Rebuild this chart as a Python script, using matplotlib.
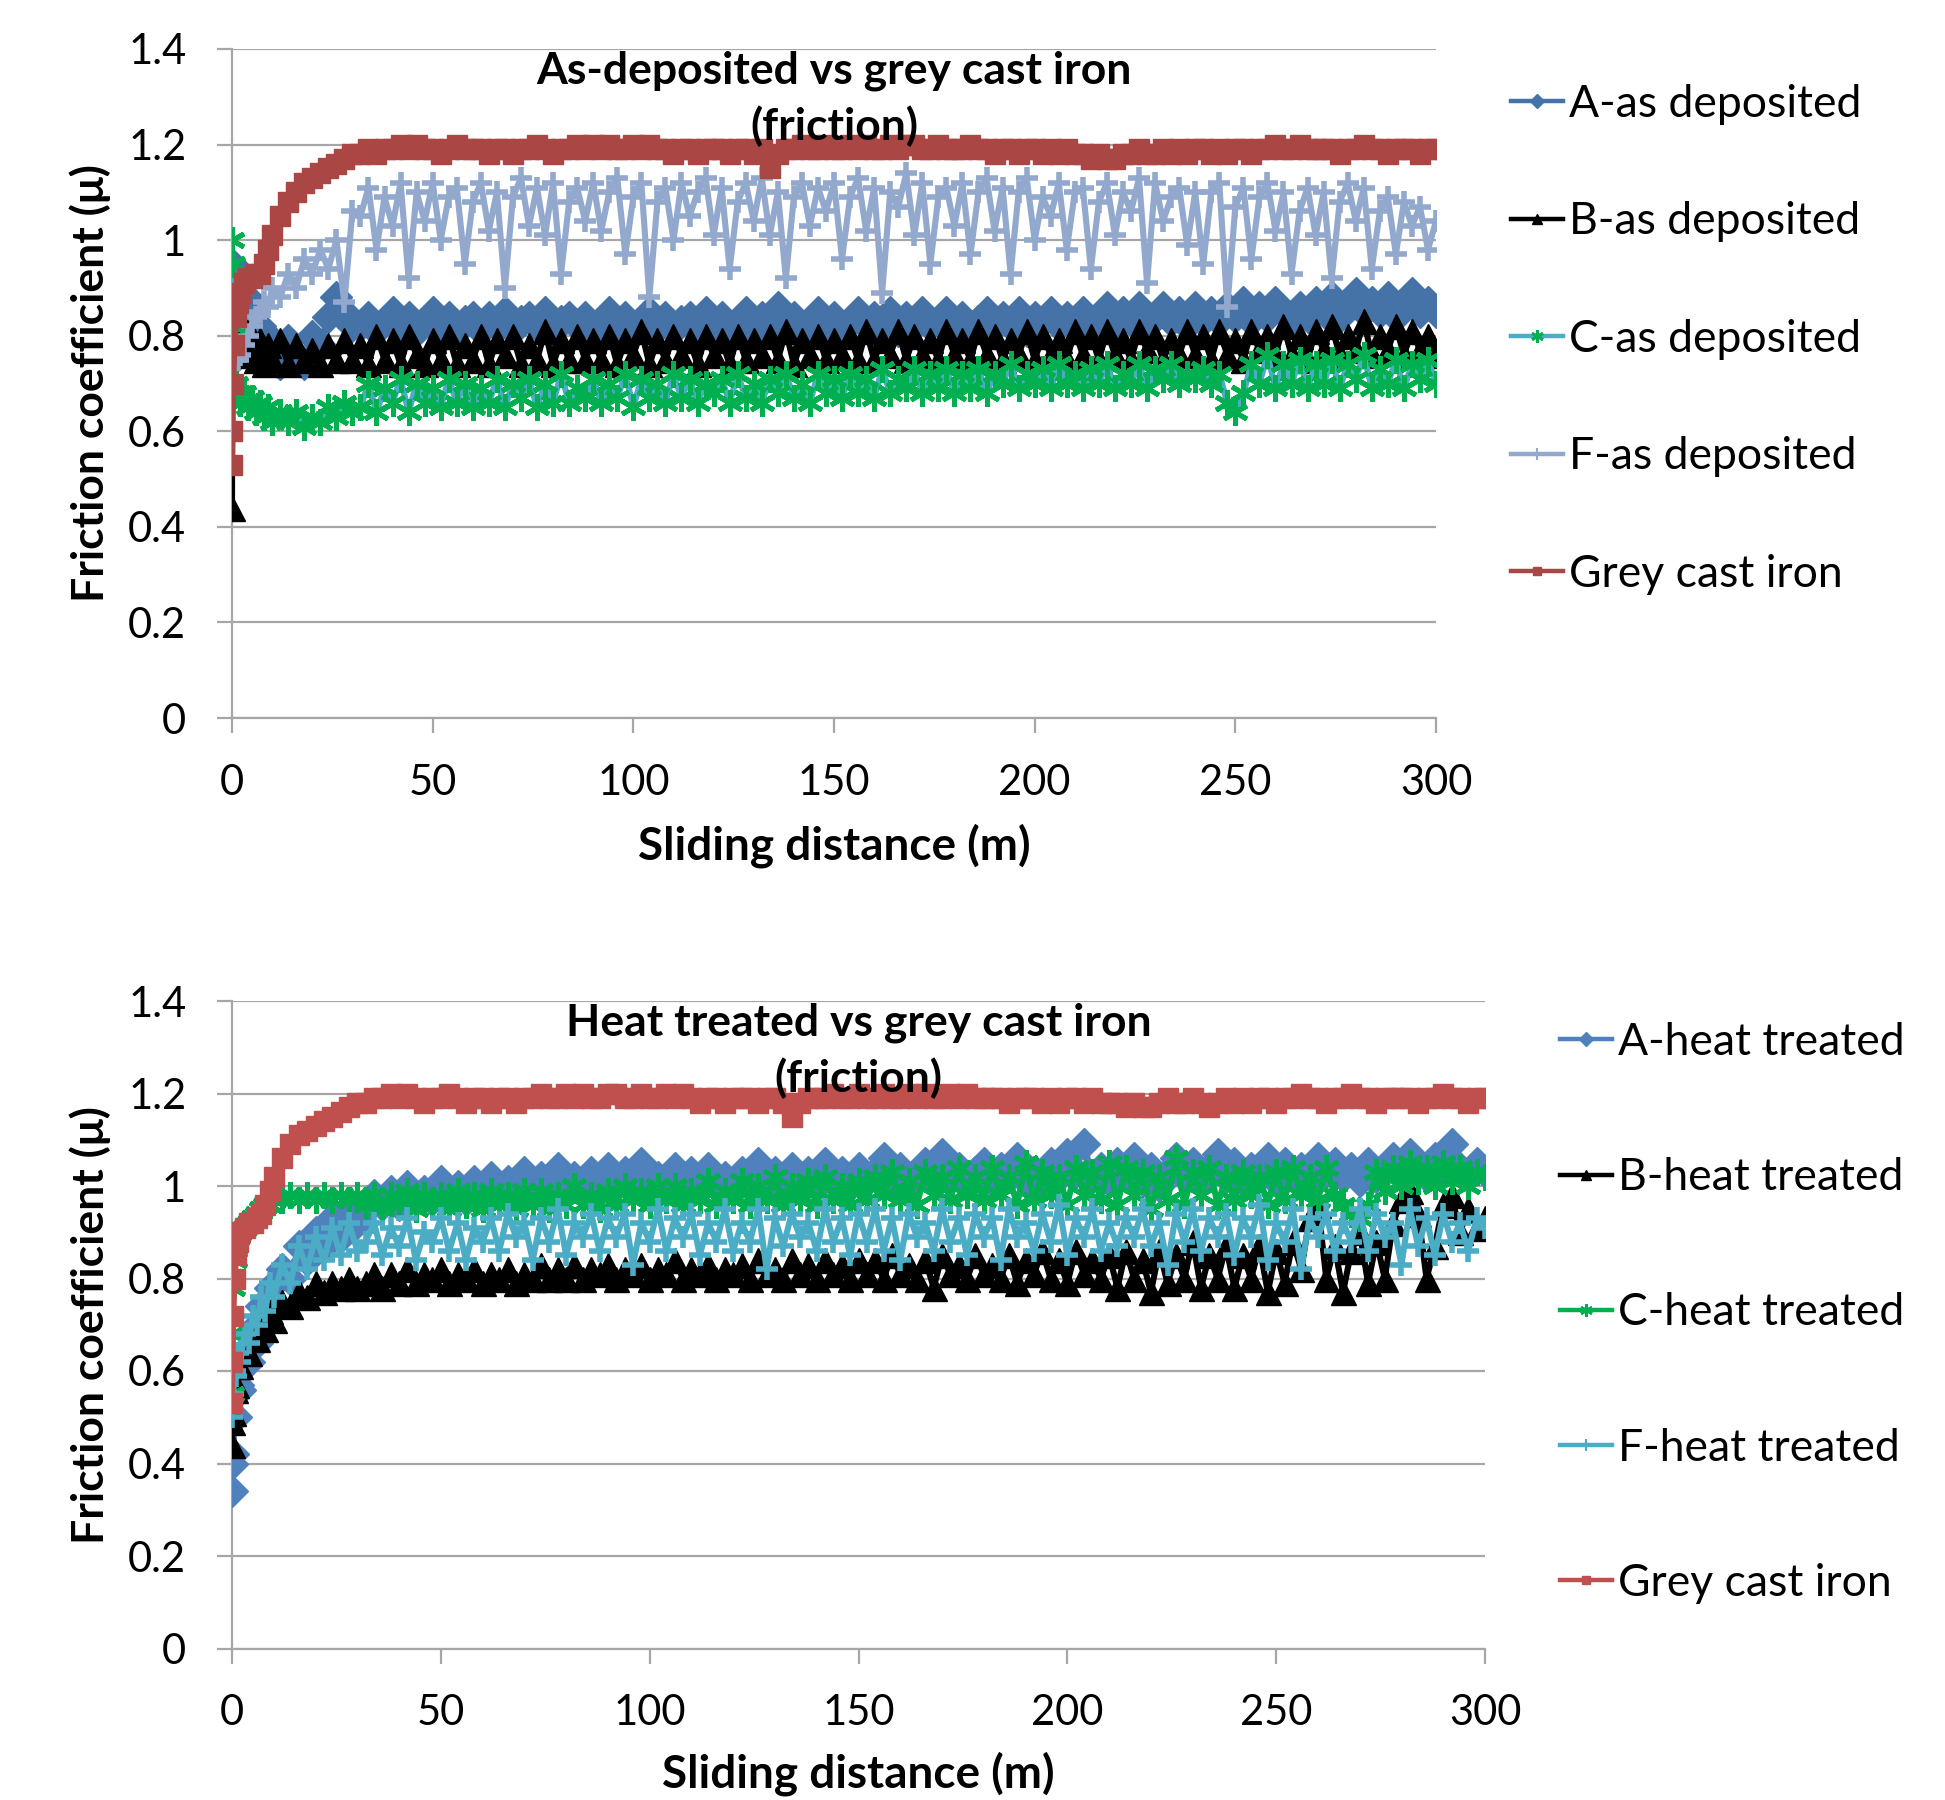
import matplotlib
matplotlib.use("Agg")
import matplotlib.pyplot as plt

plt.rcParams["font.family"] = ["Lato", "DejaVu Sans"]

# sliding distance (m), shared by every series
dist = [0, 0.1, 0.3, 0.6, 1, 1.5, 2, 3, 4, 5,
        6, 7, 8, 9, 10, 12, 14, 16, 18, 20,
        22, 24, 26, 28, 30,
        32, 34, 36, 38, 40, 42, 44, 46, 48, 50, 52, 54, 56, 58, 60,
        62, 64, 66, 68, 70, 72, 74, 76, 78, 80, 82, 84, 86, 88, 90,
        92, 94, 96, 98, 100, 102, 104, 106, 108, 110, 112, 114, 116, 118, 120,
        122, 124, 126, 128, 130, 132, 134, 136, 138, 140, 142, 144, 146, 148, 150,
        152, 154, 156, 158, 160, 162, 164, 166, 168, 170, 172, 174, 176, 178, 180,
        182, 184, 186, 188, 190, 192, 194, 196, 198, 200, 202, 204, 206, 208, 210,
        212, 214, 216, 218, 220, 222, 224, 226, 228, 230, 232, 234, 236, 238, 240,
        242, 244, 246, 248, 250, 252, 254, 256, 258, 260, 262, 264, 266, 268, 270,
        272, 274, 276, 278, 280, 282, 284, 286, 288, 290, 292, 294, 296, 298, 300]

# ---- as deposited ----
dep_A = [0.95, 0.75, 0.92, 0.78, 0.85, 0.76, 0.80, 0.84, 0.77, 0.87,
         0.78, 0.82, 0.75, 0.80, 0.77, 0.74, 0.79, 0.76, 0.74, 0.80,
         0.78, 0.84, 0.88, 0.85, 0.82,
         0.82, 0.84, 0.81, 0.83, 0.85, 0.82, 0.84, 0.81, 0.83, 0.85, 0.82, 0.84, 0.81, 0.83, 0.84,
         0.81, 0.84, 0.82, 0.85, 0.81, 0.83, 0.84, 0.82, 0.85, 0.81, 0.83, 0.84, 0.82, 0.84, 0.81,
         0.83, 0.85, 0.82, 0.84, 0.81, 0.83, 0.85, 0.82, 0.84, 0.81, 0.83, 0.84, 0.82, 0.85, 0.81,
         0.84, 0.82, 0.83, 0.85, 0.81, 0.84, 0.82, 0.86, 0.82, 0.84, 0.81, 0.83, 0.85, 0.82, 0.84,
         0.81, 0.83, 0.85, 0.82, 0.84, 0.82, 0.85, 0.81, 0.84, 0.82, 0.85, 0.82, 0.83, 0.85, 0.82,
         0.84, 0.81, 0.83, 0.85, 0.82, 0.84, 0.82, 0.85, 0.81, 0.84, 0.83, 0.85, 0.82, 0.84, 0.82,
         0.85, 0.82, 0.84, 0.86, 0.82, 0.85, 0.83, 0.86, 0.82, 0.84, 0.86, 0.83, 0.85, 0.82, 0.86,
         0.83, 0.85, 0.83, 0.86, 0.84, 0.87, 0.83, 0.86, 0.84, 0.87, 0.85, 0.83, 0.86, 0.84, 0.87,
         0.85, 0.88, 0.84, 0.86, 0.89, 0.85, 0.87, 0.85, 0.88, 0.84, 0.86, 0.89, 0.85, 0.87, 0.85]
dep_B = [0.44, 0.90, 0.70, 0.86, 0.80, 0.84, 0.78, 0.82, 0.76, 0.80,
         0.75, 0.79, 0.74, 0.78, 0.75, 0.79, 0.74, 0.78, 0.75, 0.77,
         0.74, 0.78, 0.75, 0.79, 0.75,
         0.78, 0.74, 0.80, 0.75, 0.79, 0.74, 0.80, 0.76, 0.74, 0.79, 0.75, 0.80, 0.74, 0.78, 0.75,
         0.80, 0.74, 0.79, 0.76, 0.80, 0.74, 0.78, 0.75, 0.81, 0.74, 0.79, 0.75, 0.80, 0.75, 0.79,
         0.75, 0.80, 0.74, 0.79, 0.76, 0.81, 0.74, 0.79, 0.75, 0.80, 0.76, 0.79, 0.74, 0.80, 0.76,
         0.79, 0.74, 0.80, 0.75, 0.79, 0.76, 0.80, 0.75, 0.81, 0.74, 0.79, 0.76, 0.80, 0.75, 0.79,
         0.76, 0.80, 0.75, 0.81, 0.75, 0.79, 0.76, 0.81, 0.75, 0.80, 0.76, 0.79, 0.75, 0.81, 0.76,
         0.79, 0.75, 0.81, 0.76, 0.80, 0.75, 0.79, 0.76, 0.81, 0.75, 0.80, 0.76, 0.79, 0.75, 0.81,
         0.76, 0.80, 0.75, 0.81, 0.76, 0.79, 0.75, 0.81, 0.77, 0.80, 0.75, 0.79, 0.76, 0.81, 0.76,
         0.80, 0.75, 0.81, 0.76, 0.79, 0.75, 0.81, 0.77, 0.80, 0.76, 0.82, 0.76, 0.80, 0.75, 0.81,
         0.77, 0.82, 0.76, 0.80, 0.77, 0.83, 0.76, 0.80, 0.77, 0.82, 0.76, 0.81, 0.77, 0.80, 0.76]
dep_C = [1.00, 0.88, 0.95, 0.82, 0.70, 0.68, 0.66, 0.68, 0.65, 0.67,
         0.64, 0.66, 0.63, 0.65, 0.62, 0.64, 0.62, 0.64, 0.61, 0.63,
         0.62, 0.65, 0.63, 0.66, 0.64,
         0.65, 0.70, 0.64, 0.69, 0.66, 0.71, 0.64, 0.70, 0.66, 0.69, 0.65, 0.71, 0.66, 0.70, 0.65,
         0.69, 0.66, 0.71, 0.65, 0.70, 0.67, 0.71, 0.65, 0.70, 0.66, 0.72, 0.66, 0.69, 0.67, 0.71,
         0.66, 0.70, 0.67, 0.72, 0.65, 0.71, 0.67, 0.70, 0.66, 0.72, 0.67, 0.71, 0.66, 0.70, 0.68,
         0.71, 0.66, 0.72, 0.67, 0.70, 0.66, 0.71, 0.68, 0.72, 0.67, 0.70, 0.66, 0.72, 0.68, 0.71,
         0.67, 0.72, 0.68, 0.71, 0.67, 0.73, 0.68, 0.71, 0.69, 0.73, 0.68, 0.72, 0.69, 0.73, 0.68,
         0.72, 0.69, 0.73, 0.68, 0.72, 0.70, 0.74, 0.69, 0.72, 0.70, 0.73, 0.69, 0.74, 0.70, 0.72,
         0.69, 0.73, 0.70, 0.74, 0.69, 0.72, 0.70, 0.74, 0.69, 0.73, 0.71, 0.74, 0.70, 0.72, 0.71,
         0.73, 0.70, 0.72, 0.66, 0.64, 0.68, 0.74, 0.70, 0.76, 0.69, 0.74, 0.70, 0.75, 0.69, 0.74,
         0.70, 0.75, 0.69, 0.74, 0.71, 0.76, 0.69, 0.73, 0.70, 0.75, 0.69, 0.74, 0.71, 0.75, 0.70]
dep_F = [0.78, 0.78, 0.77, 0.76, 0.75, 0.75, 0.76, 0.78, 0.80, 0.82,
         0.84, 0.85, 0.87, 0.86, 0.90, 0.88, 0.93, 0.90, 0.96, 0.93,
         0.98, 0.94, 1.00, 0.87, 1.06,
         1.05, 1.11, 0.98, 1.09, 1.03, 1.12, 0.92, 1.10, 1.04, 1.12, 1.00, 1.09, 1.11, 0.95, 1.08,
         1.12, 1.02, 1.10, 0.90, 1.09, 1.13, 1.03, 1.11, 1.01, 1.12, 0.93, 1.08, 1.11, 1.04, 1.12,
         1.02, 1.10, 1.13, 0.97, 1.09, 1.12, 0.88, 1.08, 1.11, 1.00, 1.12, 1.05, 1.10, 1.13, 1.01,
         1.11, 0.94, 1.08, 1.12, 1.04, 1.13, 1.01, 1.10, 0.92, 1.09, 1.12, 1.03, 1.11, 1.06, 1.12,
         0.96, 1.09, 1.13, 1.02, 1.11, 0.89, 1.10, 1.07, 1.14, 1.01, 1.12, 0.95, 1.09, 1.11, 1.03,
         1.12, 0.97, 1.10, 1.13, 1.02, 1.11, 0.93, 1.10, 1.13, 1.00, 1.09, 1.05, 1.12, 0.98, 1.10,
         1.11, 0.94, 1.08, 1.12, 1.01, 1.10, 1.06, 1.13, 0.91, 1.12, 1.04, 1.09, 1.11, 0.99, 1.10,
         0.95, 1.10, 1.12, 0.86, 1.07, 1.11, 0.96, 1.09, 1.12, 1.02, 1.10, 0.93, 1.06, 1.11, 1.01,
         1.10, 0.92, 1.08, 1.12, 1.04, 1.11, 0.94, 1.06, 1.09, 0.97, 1.08, 1.03, 1.07, 0.98, 1.04]
dep_grey = [0.53, 0.60, 0.70, 0.78, 0.84, 0.87, 0.89, 0.91, 0.92, 0.92,
            0.93, 0.93, 0.95, 0.98, 1.01, 1.05, 1.08, 1.10, 1.12, 1.13,
            1.14, 1.15, 1.16, 1.17, 1.18,
            1.18, 1.19, 1.18, 1.19, 1.19, 1.20, 1.19, 1.20, 1.19, 1.19, 1.18, 1.19, 1.20, 1.19, 1.19,
            1.19, 1.18, 1.19, 1.19, 1.18, 1.19, 1.19, 1.20, 1.19, 1.18, 1.19, 1.19, 1.20, 1.19, 1.20,
            1.19, 1.20, 1.19, 1.19, 1.20, 1.19, 1.20, 1.19, 1.19, 1.18, 1.19, 1.19, 1.18, 1.19, 1.19,
            1.19, 1.18, 1.19, 1.19, 1.18, 1.19, 1.15, 1.18, 1.19, 1.19, 1.20, 1.19, 1.19, 1.20, 1.19,
            1.19, 1.20, 1.19, 1.20, 1.19, 1.19, 1.20, 1.19, 1.20, 1.20, 1.19, 1.19, 1.20, 1.19, 1.19,
            1.19, 1.20, 1.19, 1.19, 1.18, 1.19, 1.19, 1.18, 1.19, 1.19, 1.18, 1.19, 1.18, 1.19, 1.18,
            1.18, 1.17, 1.18, 1.17, 1.17, 1.18, 1.18, 1.19, 1.18, 1.18, 1.19, 1.18, 1.19, 1.18, 1.19,
            1.19, 1.18, 1.19, 1.18, 1.19, 1.19, 1.18, 1.19, 1.19, 1.20, 1.19, 1.19, 1.20, 1.19, 1.19,
            1.19, 1.19, 1.18, 1.19, 1.19, 1.20, 1.19, 1.19, 1.18, 1.19, 1.19, 1.19, 1.18, 1.19, 1.19]

# ---- heat treated ----
ht_A = [0.34, 0.40, 0.42, 0.50, 0.50, 0.57, 0.56, 0.64, 0.62, 0.69,
        0.66, 0.74, 0.71, 0.78, 0.75, 0.82, 0.80, 0.87, 0.84, 0.90,
        0.87, 0.93, 0.89, 0.95, 0.92,
        0.95, 0.98, 0.96, 0.99, 0.96, 1.00, 0.97, 0.99, 0.97, 1.01, 0.98, 1.00, 0.97, 1.01, 0.99,
        1.02, 0.98, 1.01, 0.99, 1.03, 1.00, 1.02, 0.99, 1.04, 1.00, 1.02, 0.99, 1.03, 1.01, 1.04,
        1.00, 1.03, 1.01, 1.05, 1.00, 1.02, 0.99, 1.04, 1.01, 1.03, 1.00, 1.04, 1.01, 1.02, 1.00,
        1.03, 1.00, 1.05, 1.01, 1.03, 0.99, 1.04, 1.01, 1.03, 1.00, 1.05, 1.01, 1.03, 1.00, 1.04,
        1.01, 1.03, 1.06, 1.01, 1.04, 1.00, 1.03, 1.05, 1.01, 1.07, 1.02, 1.04, 1.00, 1.03, 1.05,
        1.01, 1.04, 1.02, 1.06, 1.01, 1.03, 1.00, 1.05, 1.02, 1.07, 1.03, 1.09, 1.02, 1.04, 1.01,
        1.05, 1.02, 1.06, 1.01, 1.04, 1.00, 1.03, 1.06, 1.02, 1.05, 1.01, 1.04, 1.07, 1.02, 1.05,
        1.01, 1.04, 1.02, 1.06, 1.01, 1.05, 1.02, 1.04, 1.01, 1.06, 1.03, 1.05, 1.02, 1.04, 1.01,
        1.05, 1.02, 1.04, 1.06, 1.03, 1.07, 1.04, 1.02, 1.06, 1.03, 1.09, 1.04, 1.02, 1.05, 1.03]
ht_B = [0.44, 0.49, 0.51, 0.56, 0.57, 0.61, 0.61, 0.65, 0.64, 0.68,
        0.67, 0.71, 0.69, 0.73, 0.71, 0.75, 0.74, 0.77, 0.76, 0.79,
        0.77, 0.79, 0.78, 0.80, 0.78,
        0.79, 0.81, 0.78, 0.81, 0.79, 0.82, 0.79, 0.81, 0.80, 0.82, 0.79, 0.81, 0.80, 0.82, 0.79,
        0.81, 0.80, 0.82, 0.79, 0.81, 0.80, 0.83, 0.80, 0.82, 0.80, 0.83, 0.80, 0.82, 0.81, 0.83,
        0.80, 0.82, 0.81, 0.83, 0.80, 0.82, 0.81, 0.84, 0.80, 0.82, 0.81, 0.83, 0.80, 0.82, 0.81,
        0.83, 0.80, 0.84, 0.81, 0.82, 0.80, 0.84, 0.81, 0.83, 0.80, 0.84, 0.81, 0.83, 0.80, 0.84,
        0.81, 0.84, 0.80, 0.85, 0.81, 0.83, 0.80, 0.84, 0.78, 0.85, 0.81, 0.83, 0.80, 0.85, 0.81,
        0.83, 0.80, 0.85, 0.79, 0.84, 0.81, 0.86, 0.80, 0.84, 0.79, 0.86, 0.81, 0.84, 0.80, 0.85,
        0.78, 0.86, 0.80, 0.84, 0.77, 0.86, 0.79, 0.85, 0.80, 0.88, 0.78, 0.85, 0.80, 0.87, 0.78,
        0.85, 0.80, 0.87, 0.77, 0.86, 0.79, 0.88, 0.82, 0.93, 0.96, 0.80, 0.87, 0.77, 0.86, 0.90,
        0.79, 0.88, 0.80, 0.92, 0.97, 0.99, 0.94, 0.80, 0.87, 0.96, 0.98, 0.90, 0.95, 0.91, 0.93]
ht_C = [0.55, 0.68, 0.78, 0.84, 0.87, 0.89, 0.90, 0.91, 0.92, 0.93,
        0.94, 0.95, 0.96, 0.96, 0.97, 0.97, 0.98, 0.97, 0.98, 0.97,
        0.98, 0.97, 0.98, 0.97, 0.98,
        0.96, 0.98, 0.95, 0.98, 0.96, 0.99, 0.95, 0.98, 0.96, 0.98, 0.95, 0.99, 0.96, 0.98, 0.95,
        0.99, 0.96, 0.98, 0.95, 0.99, 0.96, 0.99, 0.95, 0.98, 0.96, 1.00, 0.96, 0.98, 0.95, 0.99,
        0.96, 1.00, 0.97, 0.99, 0.96, 1.00, 0.97, 1.00, 0.96, 0.99, 0.97, 1.01, 0.96, 0.99, 0.97,
        1.01, 0.96, 1.00, 0.97, 1.02, 0.96, 1.00, 0.97, 1.01, 0.96, 1.02, 0.97, 1.00, 0.96, 1.01,
        0.97, 1.02, 0.98, 1.03, 0.97, 1.01, 0.96, 1.03, 0.98, 1.02, 0.97, 1.04, 0.98, 1.02, 0.97,
        1.04, 0.98, 1.02, 0.96, 1.05, 0.97, 1.03, 0.98, 1.02, 0.96, 1.04, 0.98, 1.03, 0.97, 1.05,
        0.96, 1.04, 0.98, 1.03, 0.95, 1.02, 0.97, 1.06, 0.96, 1.03, 0.98, 1.04, 0.96, 1.02, 0.97,
        1.03, 0.98, 1.02, 0.96, 1.03, 0.97, 1.04, 0.98, 1.02, 0.97, 1.04, 0.98, 0.96, 0.94, 0.93,
        0.96, 1.03, 0.99, 1.04, 1.00, 1.05, 1.01, 1.04, 1.00, 1.05, 1.01, 1.04, 1.00, 1.03, 1.02]
ht_F = [0.50, 0.55, 0.55, 0.60, 0.59, 0.64, 0.62, 0.68, 0.66, 0.72,
        0.70, 0.76, 0.73, 0.79, 0.76, 0.83, 0.79, 0.87, 0.82, 0.89,
        0.84, 0.91, 0.85, 0.92, 0.86,
        0.88, 0.92, 0.85, 0.91, 0.87, 0.93, 0.84, 0.90, 0.88, 0.93, 0.86, 0.92, 0.84, 0.91, 0.88,
        0.93, 0.86, 0.94, 0.89, 0.92, 0.84, 0.93, 0.88, 0.95, 0.85, 0.92, 0.89, 0.94, 0.86, 0.93,
        0.89, 0.94, 0.83, 0.92, 0.88, 0.95, 0.86, 0.93, 0.89, 0.94, 0.85, 0.92, 0.88, 0.95, 0.86,
        0.92, 0.88, 0.95, 0.82, 0.93, 0.87, 0.94, 0.89, 0.92, 0.86, 0.95, 0.88, 0.93, 0.85, 0.94,
        0.88, 0.95, 0.86, 0.93, 0.84, 0.94, 0.89, 0.92, 0.86, 0.95, 0.88, 0.93, 0.85, 0.94, 0.89,
        0.93, 0.84, 0.95, 0.89, 0.92, 0.86, 0.94, 0.88, 0.96, 0.85, 0.93, 0.89, 0.95, 0.86, 0.92,
        0.87, 0.93, 0.89, 0.95, 0.87, 0.92, 0.83, 0.94, 0.88, 0.95, 0.86, 0.93, 0.89, 0.94, 0.85,
        0.93, 0.89, 0.96, 0.84, 0.92, 0.88, 0.95, 0.82, 0.93, 0.89, 0.94, 0.86, 0.92, 0.88, 0.95,
        0.86, 0.94, 0.89, 0.92, 0.83, 0.95, 0.87, 0.93, 0.85, 0.94, 0.88, 0.92, 0.86, 0.93, 0.91]
ht_grey = [0.53, 0.62, 0.72, 0.80, 0.85, 0.88, 0.90, 0.91, 0.92, 0.92,
           0.93, 0.94, 0.96, 0.99, 1.02, 1.06, 1.09, 1.11, 1.12, 1.13,
           1.14, 1.15, 1.16, 1.17, 1.18,
           1.18, 1.19, 1.19, 1.20, 1.19, 1.20, 1.19, 1.18, 1.19, 1.19, 1.20, 1.19, 1.18, 1.19, 1.19,
           1.18, 1.19, 1.19, 1.18, 1.19, 1.19, 1.20, 1.19, 1.19, 1.20, 1.19, 1.20, 1.19, 1.19, 1.20,
           1.20, 1.19, 1.19, 1.20, 1.19, 1.19, 1.20, 1.19, 1.20, 1.19, 1.18, 1.19, 1.19, 1.18, 1.19,
           1.19, 1.19, 1.18, 1.19, 1.19, 1.18, 1.15, 1.18, 1.19, 1.19, 1.19, 1.20, 1.19, 1.19, 1.20,
           1.19, 1.19, 1.20, 1.19, 1.19, 1.20, 1.19, 1.20, 1.19, 1.19, 1.20, 1.19, 1.20, 1.19, 1.19,
           1.19, 1.19, 1.18, 1.19, 1.19, 1.19, 1.18, 1.19, 1.18, 1.19, 1.19, 1.18, 1.19, 1.18, 1.18,
           1.18, 1.17, 1.18, 1.17, 1.17, 1.18, 1.19, 1.18, 1.18, 1.19, 1.18, 1.17, 1.18, 1.19, 1.18,
           1.19, 1.18, 1.19, 1.19, 1.18, 1.19, 1.19, 1.20, 1.19, 1.19, 1.18, 1.19, 1.19, 1.20, 1.19,
           1.19, 1.18, 1.19, 1.19, 1.19, 1.19, 1.18, 1.19, 1.19, 1.20, 1.19, 1.19, 1.18, 1.19, 1.19]

y_ticks = [0, 0.2, 0.4, 0.6, 0.8, 1.0, 1.2, 1.4]
y_tick_labels = ["0", "0.2", "0.4", "0.6", "0.8", "1", "1.2", "1.4"]
x_ticks = [0, 50, 100, 150, 200, 250, 300]

star = (6, 2, 0)
top_series = [
    ("A-as deposited", dep_A, "#4572A7", "#4572A7", "D", 16, 1),
    ("B-as deposited", dep_B, "black", "black", "^", 18, 1),
    ("C-as deposited", dep_C, "#4BACC6", "#00B050", star, 19, 3.5),
    ("F-as deposited", dep_F, "#92A8CD", "#92A8CD", "+", 16, 4),
    ("Grey cast iron", dep_grey, "#AA4643", "#AA4643", "s", 14, 1),
]
bottom_series = [
    ("A-heat treated", ht_A, "#4F81BD", "#4F81BD", "D", 16, 1),
    ("B-heat treated", ht_B, "black", "black", "^", 18, 1),
    ("C-heat treated", ht_C, "#00B050", "#00B050", star, 19, 3.5),
    ("F-heat treated", ht_F, "#4BACC6", "#4BACC6", "+", 16, 4),
    ("Grey cast iron", ht_grey, "#C0504D", "#C0504D", "s", 14, 1),
]
# marker size / edge width for the small legend symbols
leg_marks = [(7, 1), (7, 1), (9, 2), (8, 1.5), (6, 1)]

W, H = 1945, 1800
fig = plt.figure(figsize=(W / 100, H / 100), dpi=100)
grid_col = "#A6A6A6"
fs_tick = 30
fs = 32


def draw(rect, series, title, leg_xy, leg_space):
    ax = fig.add_axes(rect)
    for i, (lab, vals, lc, mc, mk, ms, mew) in enumerate(series):
        ax.plot(dist, vals, color=lc, lw=4.4, marker=mk, ms=ms, mfc=mc, mec=mc,
                mew=mew, label=lab, zorder=3 + i)
    ax.set_xlim(0, 300)
    ax.set_ylim(0, 1.4)
    ax.set_yticks(y_ticks)
    ax.set_yticklabels(y_tick_labels)
    ax.set_xticks(x_ticks)
    ax.yaxis.grid(True, color=grid_col, lw=1.6)
    ax.set_axisbelow(True)
    for s in ["top", "right"]:
        ax.spines[s].set_visible(False)
    for s in ["left", "bottom"]:
        ax.spines[s].set_color(grid_col)
        ax.spines[s].set_linewidth(1.6)
    ax.tick_params(axis="both", direction="out", length=11, width=1.6,
                   color=grid_col, labelsize=fs_tick, pad=22)
    ax.set_xlabel("Sliding distance (m)", fontsize=33, fontweight="bold")
    ax.set_ylabel("Friction coefficient (μ)", fontsize=fs, fontweight="bold")
    ax.text(0.5, 0.998, title, transform=ax.transAxes, ha="center", va="top",
            fontsize=fs, fontweight="bold", linespacing=1.42, zorder=20)
    leg = ax.legend(loc="upper left", bbox_to_anchor=leg_xy,
                    bbox_transform=fig.transFigure, frameon=False, borderpad=0,
                    borderaxespad=0, handlelength=1.18, handletextpad=0.12,
                    labelspacing=leg_space, numpoints=1, fontsize=fs)
    for h, (lms, lmew) in zip(leg.legend_handles, leg_marks):
        h.set_linewidth(3.2)
        h.set_markersize(lms)
        h.set_markeredgewidth(lmew)
    return ax


ax1 = draw([232 / W, 1 - 718 / H, 1204 / W, 669 / H], top_series,
           "As-deposited vs grey cast iron\n(friction)",
           (1511 / W, 1 - 84 / H), 1.72)
ax1.xaxis.set_label_coords(0.5, -0.191)
ax1.yaxis.set_label_coords(-0.1175, 0.5)

ax2 = draw([232 / W, 1 - 1648.5 / H, 1253 / W, 647.5 / H], bottom_series,
           "Heat treated vs grey cast iron\n(friction)",
           (1560 / W, 1 - 1022 / H), 2.12)
ax2.xaxis.set_label_coords(0.5, -0.194)
ax2.yaxis.set_label_coords(-0.113, 0.5)

for ax in (ax1, ax2):
    ax.xaxis.label.set_va("center")
    ax.yaxis.label.set_va("center")

fig.savefig("out.png", dpi=100, facecolor="white")
